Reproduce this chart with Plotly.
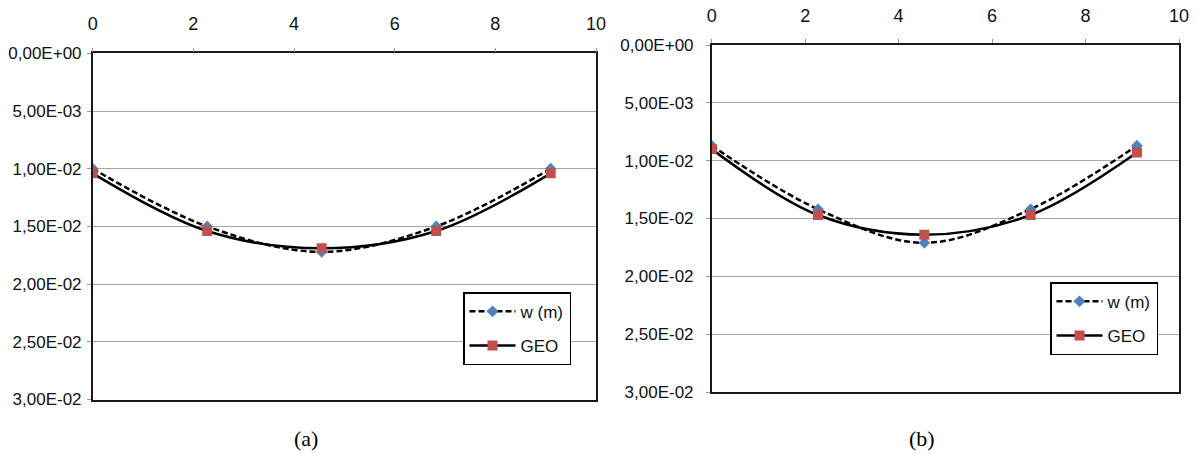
import plotly.graph_objects as go

# ---- data ----
x_pos = [0, 2.275, 4.55, 6.825, 9.1]
w_a = [0.0100, 0.0150, 0.0172, 0.0150, 0.0100]
geo_a = [0.0104, 0.0154, 0.0169, 0.0154, 0.0104]
w_b = [0.0087, 0.0142, 0.0171, 0.0142, 0.0087]
geo_b = [0.0090, 0.0147, 0.0164, 0.0147, 0.0093]

y_tickvals = [0, 0.005, 0.010, 0.015, 0.020, 0.025, 0.030]
y_ticktext = ["0,00E+00", "5,00E-03", "1,00E-02", "1,50E-02", "2,00E-02", "2,50E-02", "3,00E-02"]
x_tickvals = [0, 2, 4, 6, 8, 10]
series_names = ["w (m)", "GEO"]
panel_labels = ["(a)", "(b)"]

W, H = 1196, 454
FONT = "Liberation Sans Narrow, Liberation Sans, Arial, sans-serif"
BLUE = "#4F81BD"
RED = "#C0504D"

fig = go.Figure()

for i, (w, g) in enumerate([(w_a, geo_a), (w_b, geo_b)]):
    xa = "x" if i == 0 else "x2"
    ya = "y" if i == 0 else "y2"
    lg = "legend" if i == 0 else "legend2"
    fig.add_trace(go.Scatter(
        x=x_pos, y=w, name=series_names[0], xaxis=xa, yaxis=ya, legend=lg,
        legendgroup=f"w{i}",
        mode="lines+markers", line=dict(color="black", width=2.5, dash="6px,3px", shape="spline"),
        marker=dict(symbol="diamond", size=9, color=BLUE),
    ))
    fig.add_trace(go.Scatter(
        x=x_pos, y=g, name=series_names[1], xaxis=xa, yaxis=ya, legend=lg,
        legendgroup=f"g{i}",
        mode="lines+markers", line=dict(color="black", width=2.5, shape="spline"),
        marker=dict(symbol="square", size=10, color=RED),
    ))

def xaxis_cfg(domain, anchor, standoff):
    return dict(
        domain=domain, anchor=anchor, side="top", range=[0, 10],
        tickvals=x_tickvals, ticktext=[str(v) for v in x_tickvals],
        showgrid=False, zeroline=False, automargin=False,
        showline=True, linecolor="#1a1a1a", linewidth=1.5, mirror=True,
        ticks="outside", ticklen=4, tickcolor="#999999", tickwidth=1,
        ticklabelstandoff=standoff,
        tickfont=dict(family=FONT, size=18, color="#111111"),
    )

def yaxis_cfg(domain, anchor, standoff):
    return dict(
        domain=domain, anchor=anchor, range=[0.03, 0],
        tickvals=y_tickvals, ticktext=y_ticktext,
        showgrid=True, gridcolor="#A6A6A6", gridwidth=1, zeroline=False, automargin=False,
        showline=True, linecolor="#1a1a1a", linewidth=1.5, mirror=True,
        ticks="outside", ticklen=4, tickcolor="#999999", tickwidth=1,
        ticklabelstandoff=standoff,
        tickfont=dict(family=FONT, size=17, color="#111111"),
    )

legend_common = dict(
    bgcolor="white", bordercolor="black", borderwidth=1.5,
    font=dict(family=FONT, size=17, color="#111111"),
    xanchor="left", yanchor="top", tracegroupgap=9, itemwidth=46,
    traceorder="grouped",
)

fig.update_layout(
    width=W, height=H,
    margin=dict(l=0, r=0, t=0, b=0),
    paper_bgcolor="white", plot_bgcolor="white",
    xaxis=xaxis_cfg([92.7 / W, 596 / W], "y", 10),
    yaxis=yaxis_cfg([1 - 399.5 / H, 1 - 53.3 / H], "x", 2),
    xaxis2=xaxis_cfg([711.7 / W, 1179 / W], "y2", 10),
    yaxis2=yaxis_cfg([1 - 392 / H, 1 - 45 / H], "x2", 9),
    legend=dict(x=463 / W, y=1 - 292.3 / H, **legend_common),
    legend2=dict(x=1050 / W, y=1 - 282.3 / H, **legend_common),
    showlegend=True,
)

for lbl, cx in zip(panel_labels, [306, 922]):
    fig.add_annotation(
        text=lbl, x=cx / W, y=1 - 438 / H, xref="paper", yref="paper",
        showarrow=False, xanchor="center", yanchor="middle",
        font=dict(family="Liberation Serif, Times New Roman, serif", size=22, color="black"),
    )

fig.write_html(
    "out.html",
    config={"displayModeBar": False},
    post_script="document.body.style.margin='0';document.body.style.overflow='hidden';",
)
